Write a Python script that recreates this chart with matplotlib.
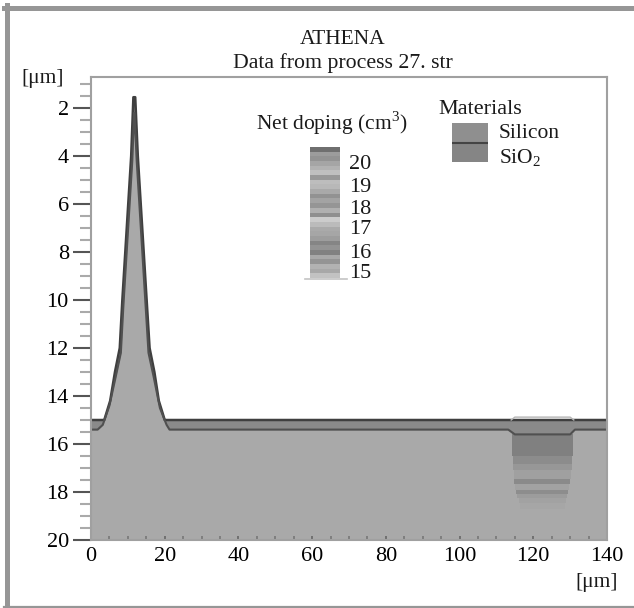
import matplotlib
matplotlib.use("Agg")
import matplotlib.pyplot as plt
from matplotlib.lines import Line2D
from matplotlib.ticker import MultipleLocator

plt.rcParams['font.family'] = ['Liberation Serif', 'DejaVu Serif']
plt.rcParams['mathtext.fontset'] = 'custom'
plt.rcParams['mathtext.rm'] = 'Liberation Serif'

W, H = 634, 608
# surface profile (x in um, depth in um)
oxide_x = [0, 2.8, 3.6, 5.2, 6.5, 7.8, 8.5, 9.3, 10.1, 10.9, 11.5, 12.0, 12.7, 13.5, 14.3, 15.1, 15.9, 17.2, 18.4, 20, 140]
oxide_top = [15.0, 15.0, 15.0, 14.2, 13.0, 12.0, 10.0, 8.0, 6.0, 4.0, 1.55, 1.55, 4.0, 6.0, 8.0, 10.0, 12.0, 13.0, 14.2, 15.0, 15.0]
si_x = [0, 1.8, 3.2, 5.0, 6.7, 8.1, 8.8, 9.6, 10.4, 11.2, 11.7, 11.8, 12.4, 13.2, 14.0, 14.8, 15.6, 17.0, 18.7, 20.5, 21.3, 113.2, 115, 130, 131.3, 140]
si_top = [15.4, 15.4, 15.2, 14.4, 13.2, 12.2, 10.2, 8.2, 6.2, 4.2, 2.2, 2.2, 4.2, 6.2, 8.2, 10.2, 12.2, 13.2, 14.5, 15.2, 15.4, 15.4, 15.6, 15.6, 15.4, 15.4]
bump_x = [114, 115, 130, 131]
bump_y = [15.0, 14.88, 14.88, 15.0]

# doping well bands
well_left = [114.3, 114.5, 114.6, 114.8, 114.9, 115.0, 115.2, 115.5, 116.0, 116.5]
well_right = [130.8, 130.6, 130.4, 130.2, 130.0, 129.8, 129.5, 129.2, 129.0, 128.5]
well_top = [15.6, 16.5, 16.85, 17.1, 17.45, 17.65, 17.9, 18.1, 18.25, 18.45]
well_bot = [16.5, 16.85, 17.1, 17.45, 17.65, 17.9, 18.1, 18.25, 18.45, 18.7]
well_gray = ['#808080', '#8c8c8c', '#979797', '#a0a0a0', '#8a8a8a', '#a2a2a2', '#8d8d8d', '#9c9c9c', '#a2a2a2', '#a6a6a6']

cbar_labels = ['20', '19', '18', '17', '16', '15']
cbar_gray = ['#6f6f6f', '#9c9c9c', '#939393', '#a5a5a5', '#b2b2b2', '#c0c0c0', '#999999', '#bdbdbd',
             '#b8b8b8', '#a9a9a9', '#929292', '#a3a3a3', '#959595', '#b0b0b0', '#8f8f8f', '#cccccc',
             '#bbbbbb', '#aaaaaa', '#a6a6a6', '#9d9d9d', '#858585', '#939393', '#818181', '#a8a8a8',
             '#949494', '#b2b2b2', '#a8a8a8', '#c2c2c2']
y_ticks = [2, 4, 6, 8, 10, 12, 14, 16, 18, 20]
x_ticks = [0, 20, 40, 60, 80, 100, 120, 140]

fig = plt.figure(figsize=(W / 100, H / 100), dpi=100)
fig.patch.set_facecolor('white')
for xs, ys, lw in [([6.5, 6.5], [5, 608], 3.6), ([4, 634], [7.5, 7.5], 3.6), ([4, 634], [607, 607], 1.6)]:
    fig.add_artist(Line2D([x / W for x in xs], [1 - y / H for y in ys], transform=fig.transFigure,
                          color='#969696', lw=lw))

L, R, T, B = 91, 607, 77, 540
ax = fig.add_axes([L / W, 1 - B / H, (R - L) / W, (B - T) / H])
ax.set_xlim(0, 140)
ax.set_ylim(20, 20 - (B - T) / 24)
ax.fill_between(oxide_x, oxide_top, 20, color='#8a8a8a', lw=0)
ax.fill_between(si_x, si_top, 20, color='#a9a9a9', lw=0)
for l, r, t, b, g in zip(well_left, well_right, well_top, well_bot, well_gray):
    ax.fill_between([l, r], t, b, color=g, lw=0)
ax.plot(oxide_x, oxide_top, color='#3f3f3f', lw=1.8, solid_joinstyle='round')
ax.plot(si_x, si_top, color='#505050', lw=1.5, solid_joinstyle='round')
ax.plot(bump_x, bump_y, color='#b5b5b5', lw=1.0)

for s in ax.spines.values():
    s.set_color('#a0a0a0')
    s.set_linewidth(1.5)
ax.set_yticks(y_ticks)
ax.yaxis.set_minor_locator(MultipleLocator(0.5))
ax.set_xticks(x_ticks)
ax.xaxis.set_minor_locator(MultipleLocator(5))
ax.tick_params(axis='y', which='major', length=13, width=1.5, color='#555555', labelsize=16, pad=3)
ax.tick_params(axis='y', which='minor', length=8, width=1.5, color='#aaaaaa')
ax.tick_params(axis='x', which='major', direction='in', length=3, width=1.2, color='#666666', labelsize=16, pad=5)
ax.tick_params(axis='x', which='minor', direction='in', length=3, width=1.2, color='#777777')


def px(x, y, s, **kw):
    fig.text(x / W, 1 - (y + 2) / H, s, color='#1a1a1a', **kw)


px(343, 37, 'ATHENA', fontsize=15.5, ha='center', va='center')
px(343, 61, 'Data from process 27. str', fontsize=15.7, ha='center', va='center')
px(43, 77, '[μm]', fontsize=15.5, ha='center', va='center')
px(597, 580, '[μm]', fontsize=15.5, ha='center', va='center')
px(332, 121, 'Net doping (cm$^{3}$)', fontsize=15.5, ha='center', va='center')
px(438, 108, 'Materials', fontsize=16, ha='left', va='center')
px(499, 132, 'Silicon', fontsize=15.5, ha='left', va='center')
px(499, 156, 'SiO$_{2}$', fontsize=15.5, ha='left', va='center')

cax = fig.add_axes([310 / W, 1 - 278 / H, 30 / W, 131 / H])
cax.barh(range(len(cbar_gray)), 1, height=1, left=0, color=cbar_gray[::-1], lw=0)
cax.set_xlim(0, 1)
cax.set_ylim(-0.5, len(cbar_gray) - 0.5)
cax.axis('off')
fig.add_artist(Line2D([305 / W, 347 / W], [1 - 279 / H] * 2, transform=fig.transFigure, color='#c4c4c4', lw=1.2))
for lab, yy in zip(cbar_labels, [163, 185, 207, 228, 251, 272]):
    px(349, yy, lab, fontsize=16, ha='left', va='center')

lax = fig.add_axes([452 / W, 1 - 162 / H, 36 / W, 39 / H])
lax.barh([0, 1], 1, height=1, color=['#858585', '#8f8f8f'], lw=0)
lax.set_xlim(0, 1)
lax.set_ylim(-0.5, 1.5)
lax.axhline(0.5, color='#444444', lw=1.5)
lax.axis('off')

fig.savefig('out.png', dpi=100)
